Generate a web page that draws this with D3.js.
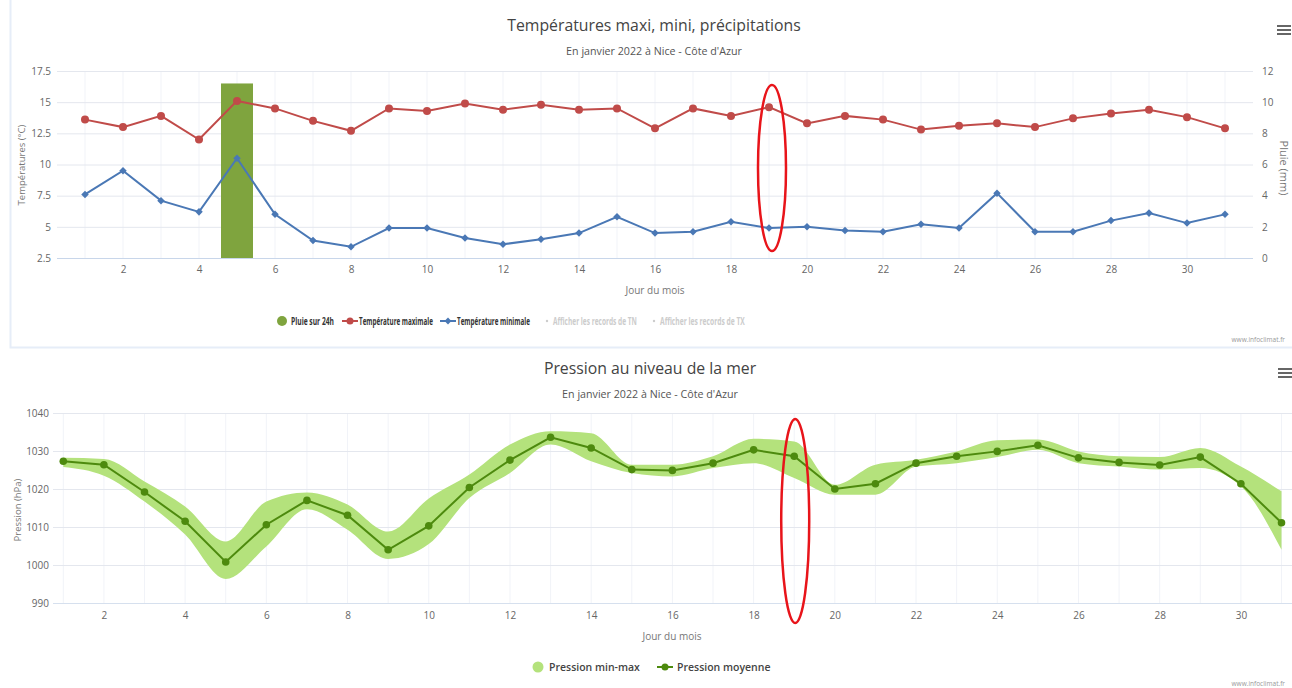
<!DOCTYPE html>
<html>
<head>
<meta charset="utf-8">
<script src="https://cdn.jsdelivr.net/npm/d3@7"></script>
<style>
  body { margin: 0; background: #fff; }
  svg { display: block; font-family: "Open Sans", "DejaVu Sans", sans-serif; }
  .tick text { fill: #666; }
</style>
</head>
<body>
<svg id="chart" width="1292" height="688"></svg>
<script>
// january 2022, Nice - Cote d'Azur
var days = d3.range(1, 32);
var tickDays = [2, 4, 6, 8, 10, 12, 14, 16, 18, 20, 22, 24, 26, 28, 30];

var tmax = [13.6, 13.0, 13.9, 12.0, 15.1, 14.5, 13.5, 12.7, 14.5, 14.3, 14.9, 14.4, 14.8, 14.4, 14.5, 12.9,
            14.5, 13.9, 14.6, 13.3, 13.9, 13.6, 12.8, 13.1, 13.3, 13.0, 13.7, 14.1, 14.4, 13.8, 12.9];
var tmin = [7.6, 9.5, 7.1, 6.2, 10.5, 6.0, 3.9, 3.4, 4.9, 4.9, 4.1, 3.6, 4.0, 4.5, 5.8, 4.5,
            4.6, 5.4, 4.9, 5.0, 4.7, 4.6, 5.2, 4.9, 7.7, 4.6, 4.6, 5.5, 6.1, 5.3, 6.0];
var rain = [0, 0, 0, 0, 11.2, 0, 0, 0, 0, 0, 0, 0, 0, 0, 0, 0,
            0, 0, 0, 0, 0, 0, 0, 0, 0, 0, 0, 0, 0, 0, 0];
var tempTicks = [2.5, 5, 7.5, 10, 12.5, 15, 17.5];
var rainTicks = [0, 2, 4, 6, 8, 10, 12];

var pMean = [1027.3, 1026.4, 1019.2, 1011.5, 1000.8, 1010.6, 1017.0, 1013.1, 1004.0, 1010.3, 1020.4, 1027.6,
             1033.6, 1030.8, 1025.1, 1024.9, 1026.8, 1030.3, 1028.6, 1020.0, 1021.4, 1026.8, 1028.6, 1029.9,
             1031.5, 1028.2, 1027.0, 1026.3, 1028.4, 1021.4, 1011.1];
var pMin = [1025.8, 1023.5, 1016.7, 1008.0, 996.3, 1004.9, 1014.7, 1009.3, 1001.6, 1005.5, 1017.6, 1024.2,
            1031.7, 1027.3, 1024.2, 1023.3, 1025.5, 1026.8, 1022.9, 1018.5, 1018.5, 1025.9, 1026.8, 1028.4,
            1030.3, 1026.8, 1025.9, 1025.1, 1025.5, 1020.7, 1004.0];
var pMax = [1028.2, 1027.9, 1022.0, 1015.4, 1006.2, 1016.7, 1019.1, 1015.9, 1008.8, 1017.5, 1023.8, 1031.7,
            1035.2, 1034.7, 1026.4, 1026.4, 1028.6, 1033.2, 1032.5, 1021.1, 1026.4, 1027.7, 1029.9, 1032.8,
            1033.0, 1029.9, 1028.6, 1028.4, 1030.8, 1025.9, 1019.4];
var presTicks = [990, 1000, 1010, 1020, 1030, 1040];

var svg = d3.select("#chart");

var RED = "#c04b49", BLUE = "#4a78b5", OLIVE = "#7fa43e";
var BAND = "#b4e27c", DKGREEN = "#4d8a0e";

var hamburger = function(x, y) {
  for (var i = 0; i < 3; i++) {
    svg.append("rect").attr("x", x).attr("y", y + i * 4).attr("width", 14).attr("height", 2).attr("fill", "#666");
  }
};

// ---------- top panel : temperatures + rain ----------
var top1 = {left: 57, right: 1253, top: 71, bottom: 258};

// panel frame (faint)
svg.append("path").attr("d", "M10.5,0 V347.5 H1292")
  .attr("fill", "none").attr("stroke", "#e6edf8").attr("stroke-width", 2);

var xT = d3.scaleLinear().domain([1, 31]).range([85, 1225]);
var yT = d3.scaleLinear().domain([2.5, 17.5]).range([top1.bottom, top1.top]);
var yR = d3.scaleLinear().domain([0, 12]).range([top1.bottom, top1.top]);

svg.append("g").selectAll("line").data(days).enter().append("line")
  .attr("x1", function(d) { return xT(d); }).attr("x2", function(d) { return xT(d); })
  .attr("y1", top1.top).attr("y2", top1.bottom)
  .attr("stroke", "#f1f3f8");

svg.append("g").selectAll("line").data(tempTicks).enter().append("line")
  .attr("x1", top1.left).attr("x2", top1.right)
  .attr("y1", function(d) { return yT(d) + 0.5; }).attr("y2", function(d) { return yT(d) + 0.5; })
  .attr("stroke", "#e4e7ee");

svg.append("line").attr("x1", top1.left).attr("x2", top1.right)
  .attr("y1", top1.bottom + 0.5).attr("y2", top1.bottom + 0.5).attr("stroke", "#c8d6ea");

var axL = svg.append("g").attr("transform", "translate(" + top1.left + ",0)")
  .call(d3.axisLeft(yT).tickValues(tempTicks).tickSize(0).tickPadding(6).tickFormat(d3.format("")));
axL.select(".domain").remove();
axL.selectAll("text").attr("font-size", 10).attr("font-family", "Open Sans");

var axR = svg.append("g").attr("transform", "translate(" + (top1.right + 3) + ",0)")
  .call(d3.axisRight(yR).tickValues(rainTicks).tickSize(0).tickPadding(6));
axR.select(".domain").remove();
axR.selectAll("text").attr("font-size", 10).attr("font-family", "Open Sans");

var axB = svg.append("g").attr("transform", "translate(0," + top1.bottom + ")")
  .call(d3.axisBottom(xT).tickValues(tickDays).tickSize(0).tickPadding(8));
axB.select(".domain").remove();
axB.selectAll("text").attr("font-size", 10).attr("font-family", "Open Sans");

// rain bars
svg.append("g").selectAll("rect").data(days.filter(function(d, i) { return rain[i] > 0; })).enter()
  .append("rect")
  .attr("x", function(d) { return xT(d) - 16; })
  .attr("width", 32)
  .attr("y", function(d) { return yR(rain[d - 1]); })
  .attr("height", function(d) { return yR(0) - yR(rain[d - 1]); })
  .attr("fill", OLIVE);

var lineMax = d3.line().x(function(d, i) { return xT(days[i]); }).y(function(d) { return yT(d); });
svg.append("path").datum(tmax).attr("d", lineMax).attr("fill", "none").attr("stroke", RED).attr("stroke-width", 2);
svg.append("g").selectAll("circle").data(tmax).enter().append("circle")
  .attr("cx", function(d, i) { return xT(days[i]); }).attr("cy", function(d) { return yT(d); })
  .attr("r", 4).attr("fill", RED);

svg.append("path").datum(tmin).attr("d", lineMax).attr("fill", "none").attr("stroke", BLUE).attr("stroke-width", 2);
svg.append("g").selectAll("path.dia").data(tmin).enter().append("path")
  .attr("d", d3.symbol().type(d3.symbolDiamond2).size(36))
  .attr("transform", function(d, i) { return "translate(" + xT(days[i]) + "," + yT(d) + ")"; })
  .attr("fill", BLUE);

svg.append("text").attr("x", 654).attr("y", 31).attr("text-anchor", "middle")
  .attr("font-size", 15.8).attr("fill", "#444").text("Températures maxi, mini, précipitations");
svg.append("text").attr("x", 654).attr("y", 55).attr("text-anchor", "middle")
  .attr("font-size", 10.7).attr("fill", "#555").text("En janvier 2022 à Nice - Côte d'Azur");
svg.append("text").attr("x", 655).attr("y", 294).attr("text-anchor", "middle")
  .attr("font-size", 10).attr("fill", "#777").text("Jour du mois");
svg.append("text").attr("transform", "translate(25,165) rotate(-90)").attr("text-anchor", "middle")
  .attr("font-size", 9.5).attr("fill", "#777").text("Températures (°C)");
svg.append("text").attr("transform", "translate(1280,168) rotate(90)").attr("text-anchor", "middle")
  .attr("font-size", 11).attr("fill", "#777").text("Pluie (mm)");

// legend top (narrow text, squeezed to the widths seen in the original)
var legTop = [
  {name: "Pluie sur 24h", x: 282, w: 43, kind: "dot", color: OLIVE, on: true},
  {name: "Température maximale", x: 350, w: 74, kind: "circle", color: RED, on: true},
  {name: "Température minimale", x: 448, w: 73, kind: "diamond", color: BLUE, on: true},
  {name: "Afficher les records de TN", x: 547, w: 84, kind: "none", color: "#ccc", on: false},
  {name: "Afficher les records de TX", x: 654, w: 85, kind: "none", color: "#ccc", on: false}
];
var lg = svg.append("g").selectAll("g").data(legTop).enter().append("g")
  .attr("transform", function(d) { return "translate(" + d.x + ",321)"; });
lg.filter(function(d) { return d.kind === "dot"; }).append("circle").attr("r", 5).attr("fill", function(d) { return d.color; });
lg.filter(function(d) { return d.kind === "circle" || d.kind === "diamond"; }).append("line")
  .attr("x1", -8).attr("x2", 8).attr("stroke", function(d) { return d.color; }).attr("stroke-width", 2);
lg.filter(function(d) { return d.kind === "circle"; }).append("circle").attr("r", 3.5).attr("fill", function(d) { return d.color; });
lg.filter(function(d) { return d.kind === "diamond"; }).append("path")
  .attr("d", d3.symbol().type(d3.symbolDiamond2).size(30)).attr("fill", function(d) { return d.color; });
lg.filter(function(d) { return d.kind === "none"; }).append("circle").attr("r", 1.2).attr("fill", "#ccc");
lg.append("g")
  .attr("transform", function(d) { return "translate(" + (d.kind === "none" ? 6 : 9) + ",0)"; })
  .append("text")
  .attr("y", 3.8).attr("font-size", 11).attr("font-weight", "bold")
  .attr("fill", function(d) { return d.on ? "#333" : "#ccc"; })
  .text(function(d) { return d.name; })
  .each(function(d) {
    var natural = this.getComputedTextLength();
    d3.select(this.parentNode).attr("transform", function() {
      return d3.select(this).attr("transform") + " scale(" + (d.w / natural) + ",1)";
    });
  });

svg.append("text").attr("x", 1285).attr("y", 342).attr("text-anchor", "end")
  .attr("font-size", 6.5).attr("fill", "#999").text("www.infoclimat.fr");
hamburger(1277, 25);

// red annotation on day 19
svg.append("ellipse").attr("cx", xT(19) + 3).attr("cy", 168).attr("rx", 14).attr("ry", 83)
  .attr("fill", "none").attr("stroke", "#e8141a").attr("stroke-width", 2.5);

// ---------- bottom panel : pressure ----------
var bot = {left: 53, right: 1292, top: 413, bottom: 603};
var xB = d3.scaleLinear().domain([1, 31]).range([63.3, 1281.5]);
var yB = d3.scaleLinear().domain([990, 1040]).range([bot.bottom, bot.top]);

svg.append("g").selectAll("line").data(days).enter().append("line")
  .attr("x1", function(d) { return xB(d); }).attr("x2", function(d) { return xB(d); })
  .attr("y1", bot.top).attr("y2", bot.bottom)
  .attr("stroke", "#f1f3f8");

svg.append("g").selectAll("line").data(presTicks).enter().append("line")
  .attr("x1", bot.left).attr("x2", bot.right)
  .attr("y1", function(d) { return yB(d) + 0.5; }).attr("y2", function(d) { return yB(d) + 0.5; })
  .attr("stroke", "#e4e7ee");
svg.append("line").attr("x1", bot.left).attr("x2", bot.right)
  .attr("y1", bot.bottom + 0.5).attr("y2", bot.bottom + 0.5).attr("stroke", "#d6e0ee");

var axPL = svg.append("g").attr("transform", "translate(" + bot.left + ",0)")
  .call(d3.axisLeft(yB).tickValues(presTicks).tickSize(0).tickPadding(4).tickFormat(d3.format("d")));
axPL.select(".domain").remove();
axPL.selectAll("text").attr("font-size", 10).attr("font-family", "Open Sans");

var axPB = svg.append("g").attr("transform", "translate(0," + bot.bottom + ")")
  .call(d3.axisBottom(xB).tickValues(tickDays).tickSize(0).tickPadding(9));
axPB.select(".domain").remove();
axPB.selectAll("text").attr("font-size", 10).attr("font-family", "Open Sans");

var band = d3.area()
  .x(function(d, i) { return xB(days[i]); })
  .y0(function(d, i) { return yB(pMin[i]); })
  .y1(function(d, i) { return yB(pMax[i]); })
  .curve(d3.curveMonotoneX);
svg.append("path").datum(days).attr("d", band).attr("fill", BAND);

var lineP = d3.line().x(function(d, i) { return xB(days[i]); }).y(function(d) { return yB(d); });
svg.append("path").datum(pMean).attr("d", lineP).attr("fill", "none").attr("stroke", DKGREEN).attr("stroke-width", 2);
svg.append("g").selectAll("circle").data(pMean).enter().append("circle")
  .attr("cx", function(d, i) { return xB(days[i]); }).attr("cy", function(d) { return yB(d); })
  .attr("r", 3.8).attr("fill", DKGREEN);

svg.append("text").attr("x", 650).attr("y", 374).attr("text-anchor", "middle")
  .attr("font-size", 15.8).attr("fill", "#444").text("Pression au niveau de la mer");
svg.append("text").attr("x", 650).attr("y", 398).attr("text-anchor", "middle")
  .attr("font-size", 10.7).attr("fill", "#555").text("En janvier 2022 à Nice - Côte d'Azur");
svg.append("text").attr("x", 672).attr("y", 640).attr("text-anchor", "middle")
  .attr("font-size", 10).attr("fill", "#777").text("Jour du mois");
svg.append("text").attr("transform", "translate(21,510) rotate(-90)").attr("text-anchor", "middle")
  .attr("font-size", 9.5).attr("fill", "#777").text("Pression (hPa)");

var legBot = svg.append("g").attr("transform", "translate(0,667)");
legBot.append("circle").attr("cx", 538).attr("r", 5.5).attr("fill", BAND);
legBot.append("text").attr("x", 549).attr("y", 3.5).attr("font-size", 10.5).attr("font-weight", 600)
  .attr("fill", "#444").text("Pression min-max");
legBot.append("line").attr("x1", 657).attr("x2", 673).attr("stroke", DKGREEN).attr("stroke-width", 2);
legBot.append("circle").attr("cx", 665).attr("r", 3.5).attr("fill", DKGREEN);
legBot.append("text").attr("x", 677).attr("y", 3.5).attr("font-size", 10.5).attr("font-weight", 600)
  .attr("fill", "#444").text("Pression moyenne");

svg.append("text").attr("x", 1285).attr("y", 686).attr("text-anchor", "end")
  .attr("font-size", 6.5).attr("fill", "#999").text("www.infoclimat.fr");
hamburger(1278, 368);

svg.append("ellipse").attr("cx", xB(19) + 1).attr("cy", 521).attr("rx", 14).attr("ry", 102)
  .attr("fill", "none").attr("stroke", "#e8141a").attr("stroke-width", 2.5);
</script>
</body>
</html>
